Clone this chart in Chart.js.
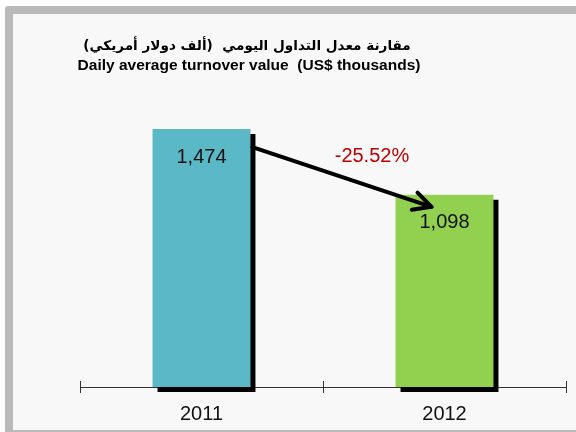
<!DOCTYPE html>
<html>
<head>
<meta charset="utf-8">
<script src="https://cdn.jsdelivr.net/npm/chart.js@4/dist/chart.umd.min.js"></script>
<style>
  html, body { margin:0; padding:0; width:576px; height:432px; overflow:hidden; background:#fdfdfd; }
  #frame { position:absolute; left:5px; top:6px; width:640px; height:416px; border:8px solid #b9b9b9; border-radius:3px; background:#f8f8f8; }
  #c { position:absolute; left:0; top:0; }
</style>
</head>
<body>
<div id="frame"></div>
<canvas id="c" width="576" height="432"></canvas>
<script>
const categories = ['2011', '2012'];
const turnoverValues = [1474, 1098];
const valueLabels = ['1,474', '1,098'];
const barColors = ['#5BB8C6', '#92D050'];
const changeLabel = '-25.52%';
const titleLines = ['مقارنة معدل التداول اليومي  (ألف دولار أمريكي)', 'Daily average turnover value  (US$ thousands)'];

const decorPlugin = {
  id: 'decor',
  beforeDatasetsDraw(chart) {
    const ctx = chart.ctx;
    ctx.save();
    ctx.shadowColor = '#000';
    ctx.shadowOffsetX = 5;
    ctx.shadowOffsetY = 5;
    ctx.shadowBlur = 0;
  },
  afterDatasetsDraw(chart) {
    const ctx = chart.ctx;
    ctx.restore();
    const meta = chart.getDatasetMeta(0);
    const xs = chart.scales.x;
    // upper halves of category tick marks
    ctx.save();
    ctx.strokeStyle = '#333';
    ctx.lineWidth = 1;
    const n = categories.length;
    for (let i = 0; i <= n; i++) {
      const x = Math.round(xs.left + i * (xs.right - xs.left) / n) + 0.5;
      ctx.beginPath();
      ctx.moveTo(x, xs.top - 6);
      ctx.lineTo(x, xs.top);
      ctx.stroke();
    }
    ctx.restore();
    // value labels
    ctx.save();
    ctx.font = '20px "Liberation Sans", Arial, sans-serif';
    ctx.fillStyle = '#111';
    ctx.textAlign = 'center';
    ctx.textBaseline = 'alphabetic';
    meta.data.forEach((bar, i) => {
      ctx.fillText(valueLabels[i], bar.x, bar.y + 33.5);
    });
    // change label
    const b0 = meta.data[0], b1 = meta.data[1];
    const r0 = b0.x + b0.width / 2, r1 = b1.x + b1.width / 2;
    ctx.fillStyle = '#C00000';
    ctx.fillText(changeLabel, (r0 + r1) / 2, b0.y + 33);
    // arrow
    const sx = r0 + 2, sy = b0.y + 18;
    const ex = b1.x - b1.width / 2 + 36, ey = b1.y + 12;
    ctx.strokeStyle = '#000';
    ctx.lineWidth = 4;
    ctx.lineCap = 'round';
    ctx.lineJoin = 'round';
    ctx.beginPath();
    ctx.moveTo(sx, sy);
    ctx.lineTo(ex, ey);
    ctx.stroke();
    const ang = Math.atan2(ey - sy, ex - sx);
    const L = 20, spread = 27 * Math.PI / 180;
    ctx.beginPath();
    ctx.moveTo(ex - L * Math.cos(ang - spread), ey - L * Math.sin(ang - spread));
    ctx.lineTo(ex, ey);
    ctx.lineTo(ex - L * Math.cos(ang + spread), ey - L * Math.sin(ang + spread));
    ctx.stroke();
    ctx.restore();
  },
  afterDraw(chart) {
    const ctx = chart.ctx;
    ctx.save();
    ctx.fillStyle = '#000';
    ctx.textAlign = 'center';
    ctx.textBaseline = 'middle';
    ctx.font = 'bold 13.6px "DejaVu Sans", sans-serif';
    ctx.fillText(titleLines[0], 247, 46);
    ctx.font = 'bold 15.5px "Liberation Sans", Arial, sans-serif';
    ctx.fillText(titleLines[1], 249, 66);
    ctx.restore();
  }
};

new Chart(document.getElementById('c'), {
  type: 'bar',
  data: {
    labels: categories,
    datasets: [{
      data: turnoverValues,
      backgroundColor: barColors,
      borderWidth: 0,
      categoryPercentage: 1,
      barPercentage: 0.403,
      clip: false
    }]
  },
  options: {
    responsive: false,
    animation: false,
    layout: { padding: { left: 80, right: 10, top: 107, bottom: 0 } },
    plugins: { legend: { display: false }, tooltip: { enabled: false }, title: { display: false } },
    scales: {
      x: {
        grid: { display: true, drawOnChartArea: false, drawTicks: true, tickLength: 6, color: '#333', offset: true },
        border: { display: true, color: '#333', width: 1 },
        ticks: { color: '#111', font: { size: 20, family: '"Liberation Sans", Arial, sans-serif' }, padding: 9 },
        afterFit(scale) { scale.height = 45; }
      },
      y: {
        display: false,
        min: 0,
        max: 1600
      }
    }
  },
  plugins: [decorPlugin]
});
</script>
</body>
</html>
